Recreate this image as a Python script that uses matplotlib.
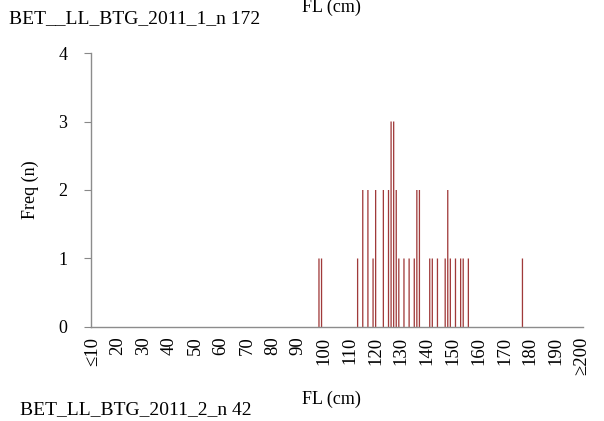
import matplotlib
matplotlib.use("Agg")
import matplotlib.pyplot as plt
import numpy as np

# Data: fork length (cm) classes with non-zero counts
fl_kelas = [98, 99, 113, 115, 117, 119, 120, 123, 125, 126, 127, 128, 129, 131,
            133, 135, 136, 137, 141, 142, 144, 147, 148, 149, 151, 153, 154, 156, 177]
frekuensi = [1, 1, 1, 2, 2, 1, 2, 2, 2, 3, 3, 2, 1, 1,
             1, 1, 2, 2, 1, 1, 1, 1, 2, 1, 1, 1, 1, 1, 1]

# Kelas 10..200 (1 cm), ujung diberi tanda <= dan >=
semua_kelas = list(range(10, 201))
label_kelas = ["≤10"] + [str(k) for k in range(11, 200)] + ["≥200"]
nilai = [0] * len(semua_kelas)
for k, f in zip(fl_kelas, frekuensi):
    nilai[semua_kelas.index(k)] = f

plt.rcParams['font.family'] = ['Liberation Serif', 'DejaVu Serif']

fig = plt.figure(figsize=(6.04, 4.21), dpi=100)
ax = fig.add_axes([0.1507, 0.2233, 0.8145, 0.6508])

x = np.arange(len(semua_kelas))
ax.bar(x, nilai, width=0.5, color='#a03a3a', linewidth=0, snap=False)

ax.set_xlim(-0.5, len(semua_kelas) - 0.5)
ax.set_ylim(0, 4)
ax.set_yticks([0, 1, 2, 3, 4])
ax.tick_params(axis='y', labelsize=13, length=5, color='#888888', pad=12)

tick_idx = list(range(0, len(semua_kelas), 10))
ax.set_xticks(tick_idx)
ax.set_xticklabels([label_kelas[i] for i in tick_idx], rotation=90, fontsize=13.5)
ax.tick_params(axis='x', length=0, pad=7)

for s in ['top', 'right']:
    ax.spines[s].set_visible(False)
for s in ['left', 'bottom']:
    ax.spines[s].set_color('#8c8c8c')
    ax.spines[s].set_linewidth(1)

ax.set_ylabel("Freq (n)", fontsize=13, labelpad=14)

# Teks di luar plot
fig.text(0.015, 0.955, "BET__LL_BTG_2011_1_n 172", fontsize=14, va='center')
fig.text(0.548, 0.982, "FL (cm)", fontsize=13, ha='center', va='center')
fig.text(0.548, 0.052, "FL (cm)", fontsize=13, ha='center', va='center')
fig.text(0.033, 0.028, "BET_LL_BTG_2011_2_n 42", fontsize=14, va='center')

fig.savefig("out.png", dpi=100)
